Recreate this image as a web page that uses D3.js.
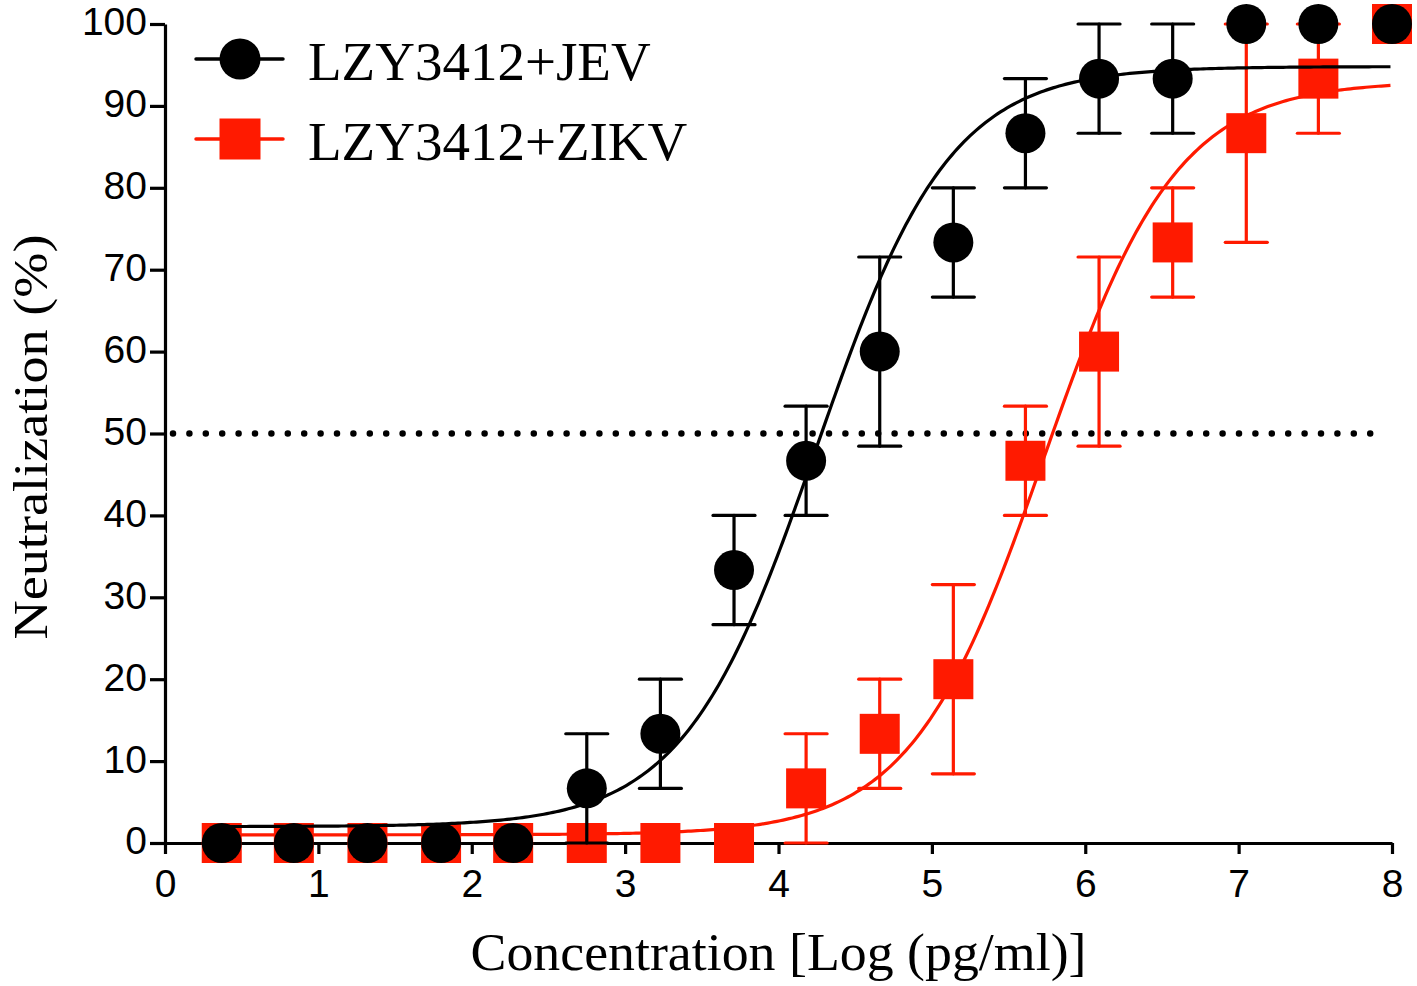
<!DOCTYPE html>
<html>
<head>
<meta charset="utf-8">
<script src="https://cdn.jsdelivr.net/npm/d3@7"></script>
<style>
  html, body { margin: 0; padding: 0; background: #fff; }
  svg { display: block; }
</style>
</head>
<body>
<svg id="chart" width="1417" height="986"></svg>
<script>
// ---- data ----
const logConc   = [0.37, 0.84, 1.32, 1.80, 2.27, 2.75, 3.23, 3.71, 4.18, 4.66, 5.14, 5.61, 6.09, 6.57, 7.05, 7.52, 8.00];
const jevMean   = [0, 0, 0, 0, 0, 6.67, 13.33, 33.33, 46.67, 60, 73.33, 86.67, 93.33, 93.33, 100, 100, 100];
const jevErr    = [0, 0, 0, 0, 0, 6.67, 6.67, 6.67, 6.67, 11.55, 6.67, 6.67, 6.67, 6.67, 0, 0, 0];
const zikvMean  = [0, 0, 0, 0, 0, 0, 0, 0, 6.67, 13.33, 20, 46.67, 60, 73.33, 86.67, 93.33, 100];
const zikvErr   = [0, 0, 0, 0, 0, 0, 0, 0, 6.67, 6.67, 11.55, 6.67, 11.55, 6.67, 13.33, 6.67, 0];
// 4-parameter logistic fit: [bottom, top, logEC50, hill]
const jevFit    = [2.0, 94.8, 4.25, 1.0];
const zikvFit   = [1.0, 93.0, 5.73, 1.0];
const seriesNames = ["LZY3412+JEV", "LZY3412+ZIKV"];
const xTicks = [0, 1, 2, 3, 4, 5, 6, 7, 8];
const yTicks = [0, 10, 20, 30, 40, 50, 60, 70, 80, 90, 100];
const refLine = 50;
const xTitle = "Concentration [Log (pg/ml)]";
const yTitle = "Neutralization (%)";

// ---- layout ----
const svg = d3.select("#chart");
const x = d3.scaleLinear().domain([0, 8]).range([165, 1392]);
const y = d3.scaleLinear().domain([0, 100]).range([843, 24]);
const RED = "#ff1a00", BLK = "#000000";
const sans = "'Liberation Sans', Arial, sans-serif";
const serif = "'Liberation Serif', 'Times New Roman', serif";

function fourPL(p, lx) { return p[0] + (p[1] - p[0]) / (1 + Math.pow(10, (p[2] - lx) * p[3])); }

// axes
const xAxis = svg.append("g").attr("transform", `translate(0,${y(0)})`)
  .call(d3.axisBottom(x).tickValues(xTicks).tickSize(11).tickSizeOuter(0).tickPadding(15).tickFormat(d3.format("d")));
const yAxis = svg.append("g").attr("transform", `translate(${x(0)},0)`)
  .call(d3.axisLeft(y).tickValues(yTicks).tickSize(15).tickSizeOuter(0).tickPadding(3).tickFormat(d3.format("d")));
[xAxis, yAxis].forEach(a => {
  a.selectAll("path.domain").attr("stroke", BLK).attr("stroke-width", 3.2);
  a.selectAll(".tick line").attr("stroke", BLK).attr("stroke-width", 3.2);
  a.selectAll(".tick text").attr("fill", BLK).attr("font-family", sans).attr("font-size", 39);
});
xAxis.selectAll(".tick text").attr("dy", "0.71em");
yAxis.selectAll(".tick text").attr("dy", "0.28em");

// 50% reference line
svg.append("line")
  .attr("x1", x(0) + 8).attr("x2", x(8) - 6)
  .attr("y1", y(refLine)).attr("y2", y(refLine))
  .attr("stroke", BLK).attr("stroke-width", 6.5)
  .attr("stroke-linecap", "round").attr("stroke-dasharray", "0 16.4");

// series
const series = [
  { mean: zikvMean, err: zikvErr, fit: zikvFit, color: RED, shape: "square" },
  { mean: jevMean,  err: jevErr,  fit: jevFit,  color: BLK, shape: "circle" }
];
const line = d3.line().x(d => x(d[0])).y(d => y(d[1]));
const capW = 21;
series.forEach(s => {
  const g = svg.append("g");
  const xs = d3.range(logConc[0], 8.0001, 0.02);
  g.append("path").attr("d", line(xs.map(v => [v, fourPL(s.fit, v)])))
    .attr("fill", "none").attr("stroke", s.color).attr("stroke-width", 3.2);
  const pts = logConc.map((c, i) => ({ c, m: s.mean[i], e: s.err[i] })).filter(p => p.e > 0);
  const eb = g.selectAll("g.eb").data(pts).enter().append("g")
    .attr("stroke", s.color).attr("stroke-width", 3.2).attr("stroke-linecap", "round");
  eb.append("line").attr("x1", d => x(d.c)).attr("x2", d => x(d.c))
    .attr("y1", d => y(Math.max(0, d.m - d.e))).attr("y2", d => y(d.m + d.e));
  eb.append("line").attr("x1", d => x(d.c) - capW).attr("x2", d => x(d.c) + capW)
    .attr("y1", d => y(d.m + d.e)).attr("y2", d => y(d.m + d.e));
  eb.append("line").attr("x1", d => x(d.c) - capW).attr("x2", d => x(d.c) + capW)
    .attr("y1", d => y(Math.max(0, d.m - d.e))).attr("y2", d => y(Math.max(0, d.m - d.e)));
  const all = logConc.map((c, i) => ({ c, m: s.mean[i] }));
  if (s.shape === "circle") {
    g.selectAll("circle.pt").data(all).enter().append("circle")
      .attr("cx", d => x(d.c)).attr("cy", d => y(d.m)).attr("r", 20).attr("fill", s.color);
  } else {
    g.selectAll("rect.pt").data(all).enter().append("rect")
      .attr("x", d => x(d.c) - 20).attr("y", d => y(d.m) - 20)
      .attr("width", 40).attr("height", 40).attr("fill", s.color);
  }
});

// legend
const legend = [
  { name: seriesNames[0], color: BLK, shape: "circle", y: 59 },
  { name: seriesNames[1], color: RED, shape: "square", y: 139 }
];
legend.forEach(l => {
  svg.append("line").attr("x1", 196).attr("x2", 283).attr("y1", l.y).attr("y2", l.y)
    .attr("stroke", l.color).attr("stroke-width", 3.5).attr("stroke-linecap", "round");
  if (l.shape === "circle") svg.append("circle").attr("cx", 240).attr("cy", l.y).attr("r", 20.5).attr("fill", l.color);
  else svg.append("rect").attr("x", 219.5).attr("y", l.y - 20.5).attr("width", 41).attr("height", 41).attr("fill", l.color);
  svg.append("text").attr("x", 308).attr("y", l.y + 21).text(l.name)
    .attr("font-family", serif).attr("font-size", 55).attr("fill", BLK);
});

// titles
svg.append("text").attr("x", (x(0) + x(8)) / 2).attr("y", 970).attr("text-anchor", "middle")
  .attr("font-family", serif).attr("font-size", 52).attr("fill", BLK)
  .attr("textLength", 616).attr("lengthAdjust", "spacingAndGlyphs").text(xTitle);
svg.append("text").attr("transform", `translate(47,437) rotate(-90)`).attr("text-anchor", "middle")
  .attr("font-family", serif).attr("font-size", 49).attr("fill", BLK)
  .attr("textLength", 405).attr("lengthAdjust", "spacingAndGlyphs").text(yTitle);
</script>
</body>
</html>
